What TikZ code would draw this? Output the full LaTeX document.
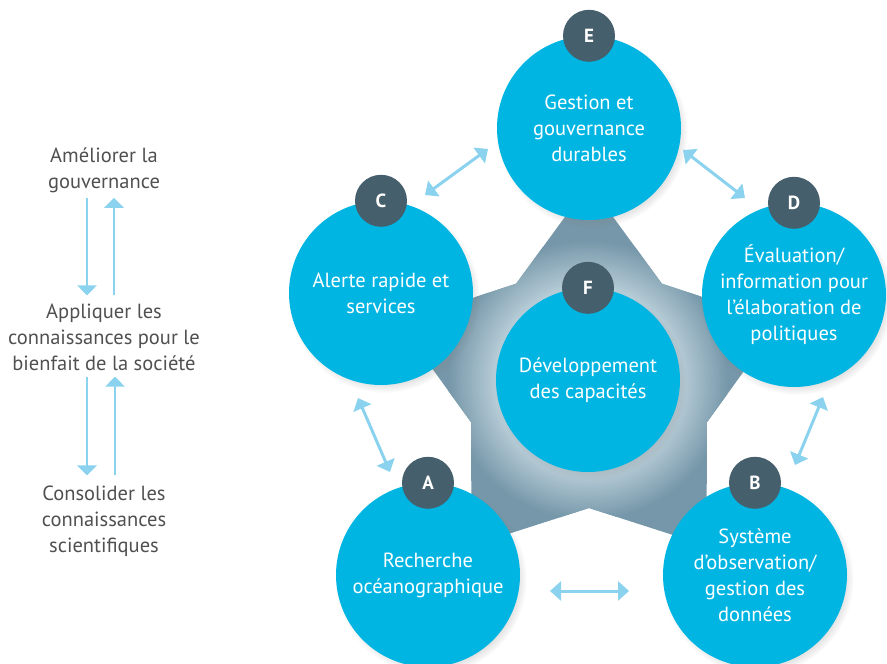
\documentclass[tikz,border=0pt]{standalone}
\usepackage{fontspec}
\setmainfont{PT Sans}
\usetikzlibrary{arrows.meta, shadows}
\definecolor{bleu}{HTML}{00B5E2}
\definecolor{ardoise}{HTML}{465F6C}
\definecolor{fleche}{HTML}{8AD2EE}
\definecolor{etoile}{HTML}{7597A9}
\definecolor{halo}{HTML}{BCD0DA}
\definecolor{gris}{HTML}{505050}
\pgfdeclareradialshading{lueur}{\pgfpoint{0bp}{0bp}}{color(0bp)=(halo); color(16bp)=(halo); color(25bp)=(etoile); color(50bp)=(etoile)}

\begin{document}
\begin{tikzpicture}[x=1pt, y=-1pt, font=\fontsize{20.5}{26}\selectfont,
  bulle/.style={circle, fill=bleu, minimum size=184pt, inner sep=0pt, align=center, text=white,
    circular drop shadow={shadow xshift=3pt, shadow yshift=-4pt, shadow scale=1.04, opacity=.35}},
  lettre/.style={circle, fill=ardoise, minimum size=52pt, inner sep=0pt, text=white, font=\fontsize{19}{20}\selectfont\bfseries},
  etape/.style={align=center, text=gris, inner sep=0pt},
  liaison/.style={draw=fleche, line width=3pt, {Triangle[width=19pt,length=11pt]}-{Triangle[width=19pt,length=11pt]}},
  sens/.style={draw=fleche, line width=2.5pt, -{Triangle[width=19pt,length=10pt]}}]
\useasboundingbox (0,0) rectangle (887,664);

\coordinate (centre) at (589,384);
\fill[etoile] ([shift={(-90:200)}]centre)
  \foreach \k in {1,...,9} { -- ([shift={({-90+36*\k}:{200-76*isodd(\k)})}]centre) } -- cycle;
\begin{scope}
\clip ([shift={(-90:200)}]centre)
  \foreach \k in {1,...,9} { -- ([shift={({-90+36*\k}:{200-76*isodd(\k)})}]centre) } -- cycle;
\shade[shading=lueur] (588,380) circle (140);
\end{scope}

\node[bulle] (E) at (589,128) {Gestion et\\gouvernance\\durables};
\node[bulle] (C) at (381,293) {Alerte rapide et\\services};
\node[bulle] (D) at (794,295) {Évaluation/\\information pour\\l’élaboration de\\politiques};
\node[bulle] (A) at (428,575) {Recherche\\océanographique};
\node[bulle] (B) at (755,575) {Système\\d’observation/\\gestion des\\données};
\node[bulle] (F) at (588,380) {Développement\\des capacités};

\foreach \n in {A,B,C,D,E,F}
  \node[lettre] (l\n) at (\n.north) {\n};

\coordinate (ce1) at (425,195);
\coordinate (ce2) at (488,149);
\coordinate (ed1) at (683,150);
\coordinate (ed2) at (745,198);
\coordinate (ca1) at (358,398);
\coordinate (ca2) at (390,472);
\coordinate (db1) at (823,397);
\coordinate (db2) at (795,465);
\coordinate (ab1) at (550,591);
\coordinate (ab2) at (629,591);
\draw[liaison] (ce1) -- (ce2);
\draw[liaison] (ed1) -- (ed2);
\draw[liaison] (ca1) -- (ca2);
\draw[liaison] (db1) -- (db2);
\draw[liaison] (ab1) -- (ab2);

\node[etape] (gouv) at (104,170) {Améliorer la\\gouvernance};
\node[etape] (appl) at (104,337) {Appliquer les\\connaissances pour le\\bienfait de la société};
\node[etape] (cons) at (104,521) {Consolider les\\connaissances\\scientifiques};

\draw[sens, shorten <=5pt, shorten >=8pt] ([xshift=-17pt]gouv.south) -- ([xshift=-17pt]appl.north);
\draw[sens, shorten <=8pt, shorten >=5pt] ([xshift=10pt]appl.north) -- ([xshift=10pt]gouv.south);
\draw[sens, shorten <=6pt, shorten >=10pt] ([xshift=-17pt]appl.south) -- ([xshift=-17pt]cons.north);
\draw[sens, shorten <=10pt, shorten >=6pt] ([xshift=11pt]cons.north) -- ([xshift=11pt]appl.south);
\end{tikzpicture}
\end{document}
